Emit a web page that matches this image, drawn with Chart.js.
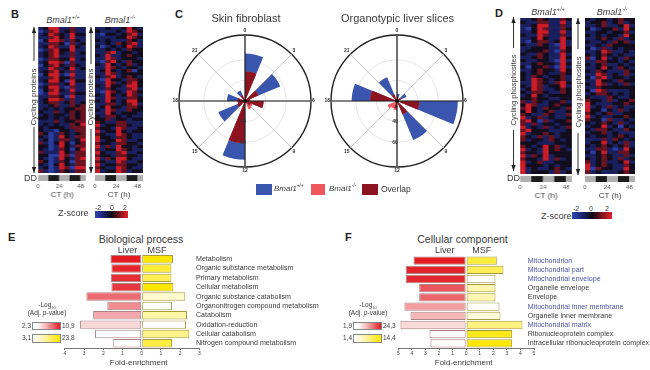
<!DOCTYPE html>
<html>
<head>
<meta charset="utf-8">
<title>Bmal1 panels</title>
<script src="https://cdn.jsdelivr.net/npm/chart.js@4"></script>
<style>
	html, body { margin: 0; padding: 0; background: #fff; overflow: hidden; }
	body { width: 650px; height: 370px; position: relative; font-family: "Liberation Sans", Arial, sans-serif; color: #3a3a3a; }
	canvas { position: absolute; }
	canvas.soft { filter: blur(0.55px); }
	.t { position: absolute; white-space: nowrap; line-height: 1; }
	.c { transform: translateX(-50%); }
	.letter { font-weight: bold; font-size: 11px; color: #222; }
	.rot { transform: translate(-50%, -50%) rotate(-90deg); font-size: 8px; }
	i sup, sup { font-size: 60%; line-height: 0; }
	.box { position: absolute; }
	svg { position: absolute; left: 0; top: 0; }
</style>
</head>
<body>
<svg width="650" height="370" id="arrows"></svg>
<script>
// z-score rows, one digit per time point (0 = -2 ... 4 = +2), top row first
var proteinsWT = ["124411311","013412311","124321422","113421411","024431321","113320312","124311421","013422411","123421312",
	"123411311","013322412","124430311","023421321","114312412","123421311","024410411","113422311","124420422","013312411","124410311","023421411","014411322","113320411","124431311",
	"123312312","112311323","121212233","211312323","121221323","221212323","111312233","121211324","212221333",
	"211022133","320132123","210142133","120133124","310242023","220142133","210132024","311142133","220043033","210142134","320132033","210242133","120143044","310132133"];
var proteinsKO = ["112112421","211121432","102212341","111122432","212111321","112132341","201212431","112121322",
	"113412212","214112322","114312221","103421322","214212312","114321221","124212302","114312222","213412321",
	"104221332","114312342","214221442","113211341","104321432","214212431","114311332","214212442","113312341","124221332","214311322","114212221","213321211",
	"223122122","321133111","412233211","322143112","412242122","321143211","422133211","412243112","322133221","413142212","312243211","421134112","322133221","413244211","321143112","412233221","321143211","412243122"];
var phosphoWT = ["112321132","211331141","112441131","102431132","112441141","211431131","112421142","102331241","211321041","112221142","122231032","211321141","112321142","211221041","112322142","202231041","112322142",
	"212321132","213212231","214321231","114321342","214312241","124311232","213321132","124212222",
	"223221122","313212231","243112322","342132213","242123112","321132113","412312112","342031223","313122122","412131213","342221112","412232122","321313122","312213212","222111222","321242312","412142321","322142222","413241222","322141312","412311222","422212122","412112321","412221312"];
var phosphoKO = ["212212322","122312312","112311241","201223142","112212231","212122142","112321312","211213231","112132222","201312122","112431121","212321211","302412132","113322121","212311212","112421321","213211132","114312131","203412212","114221322","214312131","113222222","204311112","123321212",
	"211132112","322131223","421112232","412131211","422021312","321231122","412112232","322031121","212321312","122412021","213321132","122312111","212212321","111313212","122412131","212321231","113310142","202411332","112321131","212321312","312311241","412321132","403221142","312111232"];
var ctLabels = ["0","","","","24","","","","48"];
var ddPhases = ["L","L","D","D","L","L","D","D","L"];

// rose charts, 16 bins clockwise starting from CT 12
var roseLabels = ["12","","15","","18","","21","","0","","3","","6","","9",""];
var skinWT = [77,20,48,27,37.5,20,31,22,66,20,57,25,38,26,22,20];
var skinKO = [61,20,28,27,27,20,26,22,48.6,20,34,25,38,28,29,20];
var skinOverlap = [61,20,28,27,27,20,26,22,48.6,20,34,25,38,26,22,20];
var liverWT = [27,20,20,20,64,20,45,20,27,22,30,22,79,20,61,20];
var liverKO = [29,28,30,20,46,20,27,22,24,22,24,22,41.6,20,34,22];
var liverOverlap = [27,20,20,20,46,20,27,20,24,22,24,22,41.6,20,34,20];
var roseTicks = [40,60];

// enrichment panels
var bioTerms = ["Metabolism","Organic substance metabolism","Primary metabolism","Cellular metabolism","Organic substance catabolism","Organonitrogen compound metabolism","Catabolism","Oxidation-reduction","Cellular catabolism","Nitrogen compound metabolism"];
var bioLiver = [1.63,1.58,1.61,1.58,2.88,1.79,2.53,3.21,2.43,1.48];
var bioMSF = [1.63,1.55,1.55,1.65,2.27,1.58,2.36,2.31,2.48,1.58];
var bioLiverP = [10.9,10.6,10.2,9.8,7.9,6.6,5.6,3.8,2.3,2.3];
var bioMSFP = [23.8,20,17,23.8,7.3,3.1,10.3,3.1,12.4,18.6];
var ccTerms = ["Mitochondrion","Mitochondrial part","Mitochondrial envelope","Organelle envelope","Envelope","Mitochondrial inner membrane","Organelle inner membrane","Mitochondrial matrix","Ribonucleoprotein complex","Intracellular ribonucleoprotein complex"];
var ccLiver = [3.88,4.45,4.45,3.46,3.46,4.55,4.1,4.84,2.7,2.63];
var ccMSF = [2.26,2.75,2.16,2.16,2.16,2.46,2.53,4.15,3.39,3.39];
var ccLiverP = [24.3,23.6,23,18.5,17,11.5,9,5.5,2.4,2.3];
var ccMSFP = [11.5,10,1.4,5.5,5.5,1.4,3.2,8,13,14.4];

var zColors = ["#2b3da0","#1a1f5e","#120d1c","#691320","#cc1c28"];
var blue = "#3a55ad", pink = "#f0565c", dark = "#8b1420";
Chart.defaults.font.family = '"Liberation Sans", Arial, sans-serif';
Chart.defaults.animation = false;

function addCanvas(left, top, w, h) {
	var c = document.createElement("canvas");
	c.width = w; c.height = h;
	c.style.left = left + "px"; c.style.top = top + "px";
	c.style.width = w + "px"; c.style.height = h + "px";
	document.body.appendChild(c);
	return c;
}
function addText(html, left, top, size, extra) {
	var d = document.createElement("div");
	d.className = "t " + (extra || "");
	d.innerHTML = html;
	d.style.left = left + "px"; d.style.top = top + "px";
	if (size) d.style.fontSize = size + "px";
	document.body.appendChild(d);
	return d;
}
function addBox(left, top, w, h, bg, border) {
	var d = document.createElement("div");
	d.className = "box";
	d.style.cssText += "left:" + left + "px;top:" + top + "px;width:" + w + "px;height:" + h + "px;background:" + bg + ";" + (border ? "border:1px solid " + border + ";box-sizing:border-box;" : "");
	document.body.appendChild(d);
}

function heatmap(rows, left, top, w, h) {
	var perRow = h / rows.length;
	var datasets = [];
	for (var i = rows.length - 1; i >= 0; i--) {
		datasets.push({
			data: ctLabels.map(function () { return 1; }),
			backgroundColor: rows[i].split("").map(function (d) { return zColors[+d]; })
		});
	}
	// gap and light/dark strip under the rows
	datasets.push({ data: ctLabels.map(function () { return -2.7 / perRow; }), backgroundColor: "rgba(0,0,0,0)" });
	datasets.push({ data: ctLabels.map(function () { return -5.6 / perRow; }), backgroundColor: ddPhases.map(function (p) { return p == "L" ? "#b0b0b0" : "#1c1c1c"; }) });
	var colW = w / ctLabels.length;
	var cv = addCanvas(left - 10, top, w + 20, h + 8.3 + 19);
	new Chart(cv, {
		type: "bar",
		data: { labels: ctLabels, datasets: datasets },
		options: {
			responsive: false,
			layout: { padding: { left: 10, right: 10, top: 0, bottom: 0 } },
			plugins: { legend: { display: false }, tooltip: { enabled: false } },
			datasets: { bar: { barPercentage: 1, categoryPercentage: 1, borderWidth: 0 } },
			scales: {
				y: { display: false, stacked: true, min: -8.3 / perRow, max: rows.length },
				x: {
					stacked: true,
					afterFit: function (s) { s.height = 19; },
					grid: { display: false, drawTicks: false },
					border: { display: false },
					ticks: { autoSkip: false, maxRotation: 0, font: { size: 6 }, color: "#555", padding: 2, labelOffset: -colW / 2 },
					title: { display: true, text: "CT (h)", font: { size: 8 }, color: "#444", padding: { top: 1, bottom: 0 } }
				}
			}
		}
	});
}

var roseExtras = {
	id: "roseExtras",
	afterDatasetsDraw: function (chart) {
		var s = chart.scales.r, c = chart.ctx;
		c.save();
		c.strokeStyle = "#222"; c.lineWidth = 1.2;
		[0, 4, 8, 12].forEach(function (i) {
			var p = s.getPointPosition(i, s.drawingArea);
			c.beginPath(); c.moveTo(s.xCenter, s.yCenter); c.lineTo(p.x, p.y); c.stroke();
		});
		c.fillStyle = "#111";
		c.beginPath(); c.arc(s.xCenter, s.yCenter, 2, 0, Math.PI * 2); c.fill();
		c.fillStyle = "#333"; c.font = "bold 5px 'Liberation Sans'"; c.textAlign = "center"; c.textBaseline = "middle";
		roseTicks.forEach(function (v) {
			var p = s.getPointPosition(0, s.getDistanceFromCenterForValue(v));
			c.fillText(String(v), p.x - 2, p.y);
		});
		c.restore();
	}
};
function rose(wt, ko, overlap, left, top, w, h) {
	new Chart(addCanvas(left, top, w, h), {
		type: "polarArea",
		data: {
			labels: roseLabels,
			datasets: [
				{ data: overlap, backgroundColor: dark, borderWidth: 0 },
				{ data: ko, backgroundColor: pink, borderWidth: 0 },
				{ data: wt, backgroundColor: blue, borderWidth: 0 }
			]
		},
		plugins: [roseExtras],
		options: {
			responsive: false,
			plugins: { legend: { display: false }, tooltip: { enabled: false } },
			scales: {
				r: {
					min: 20, max: 84, startAngle: 180,
					ticks: { display: false, stepSize: 20 },
					grid: {
						circular: true,
						color: function (ctx) { return ctx.tick.value == 84 ? "#222" : ctx.tick.value == 80 ? "rgba(0,0,0,0)" : "#e6e6e6"; },
						lineWidth: function (ctx) { return ctx.tick.value == 84 ? 1.4 : 1; }
					},
					angleLines: {
						display: true,
						color: function (ctx) { return ctx.index % 2 ? "rgba(0,0,0,0)" : "#c8c8c8"; },
						lineWidth: 1
					},
					pointLabels: { display: true, centerPointLabels: false, font: { size: 5, weight: "bold" }, color: "#333", padding: 1 }
				}
			}
		}
	});
}

function mix(rgb, f) {
	return "rgb(" + rgb.map(function (c) { return Math.round(255 + (c - 255) * f); }).join(",") + ")";
}
function enrich(terms, liver, msf, liverP, msfP, lo1, hi1, lo2, hi2, xMin, xMax, left, top, plotL, plotR, plotT, plotB, width, labelShift) {
	var neg = liver.map(function (v) { return -v; });
	new Chart(addCanvas(left, top, width, plotB - top + 12), {
		type: "bar",
		data: {
			labels: terms,
			datasets: [
				{ data: neg, backgroundColor: liverP.map(function (p) { return mix([227, 27, 35], (p - lo1) / (hi1 - lo1)); }), borderColor: "#a88486", borderWidth: 1, borderSkipped: false },
				{ data: msf, backgroundColor: msfP.map(function (p) { return mix([255, 230, 0], (p - lo2) / (hi2 - lo2)); }), borderColor: "#a89c48", borderWidth: 1, borderSkipped: false }
			]
		},
		// term names start a little inside the end of the fold axis
		plugins: [{
			id: "shiftTerms",
			beforeDraw: function (chart) {
				var y = chart.scales.y;
				if (!y.$shifted) { y.left -= labelShift; y.$shifted = true; y._labelItems = null; }
			}
		}],
		options: {
			indexAxis: "y",
			responsive: false,
			layout: { padding: { left: plotL - left, top: plotT - top, right: 0, bottom: 0 } },
			plugins: { legend: { display: false }, tooltip: { enabled: false } },
			datasets: { bar: { barPercentage: 0.9, categoryPercentage: 1 } },
			scales: {
				x: {
					stacked: true, min: xMin, max: xMax,
					afterFit: function (s) { s.height = 12; },
					grid: { drawOnChartArea: false, drawTicks: true, tickLength: 2, color: "#777" },
					border: { color: "#777" },
					ticks: { stepSize: 1, autoSkip: false, maxRotation: 0, font: { size: 5 }, color: "#444", padding: 1, callback: function (v) { return Math.abs(v); } }
				},
				y: {
					stacked: true, position: "right",
					afterFit: function (s) { s.width = left + width - plotR; },
					grid: { display: false, drawTicks: false },
					border: { display: false },
					ticks: {
						autoSkip: false, crossAlign: "near", padding: 0, font: { size: 7.1 },
						color: function (ctx) { return ctx.tick.label.indexOf("Mitochondri") == 0 ? "#4a55a8" : "#3a3a3a"; }
					}
				}
			}
		}
	});
}

heatmap(proteinsWT, 38.3, 27, 47.7, 146);
heatmap(proteinsKO, 95.3, 27, 48, 146);
heatmap(phosphoWT, 520, 18.3, 51.7, 155.7);
heatmap(phosphoKO, 584.7, 18.3, 50.5, 155.7);
Array.prototype.slice.call(document.querySelectorAll("canvas")).forEach(function (c) { c.className = "soft"; });

rose(skinWT, skinKO, skinOverlap, 165, 28, 160, 146);
rose(liverWT, liverKO, liverOverlap, 317, 28, 160, 146);

enrich(bioTerms, bioLiver, bioMSF, bioLiverP, bioMSFP, 2.3, 10.9, 3.1, 23.8, -4, 3, 50, 250, 64.9, 199.3, 254.5, 348, 280, 3.3);
enrich(ccTerms, ccLiver, ccMSF, ccLiverP, ccMSFP, 1.9, 24.3, 1.4, 14.4, -5, 5, 385, 250, 398.3, 534, 256, 348, 265, 6.3);

// panel letters
addText("B", 11, 9, 0, "letter");
addText("C", 175, 9, 0, "letter");
addText("D", 495, 8, 0, "letter");
addText("E", 8, 232, 0, "letter");
addText("F", 345, 232, 0, "letter");

// heat map headings
addText("<i>Bmal1<sup>+/+</sup></i>", 63, 15.5, 9, "c");
addText("<i>Bmal1<sup>-/-</sup></i>", 120, 15.5, 9, "c");
addText("<i>Bmal1<sup>+/+</sup></i>", 548, 7.5, 9, "c");
addText("<i>Bmal1<sup>-/-</sup></i>", 612, 7.5, 9, "c");
addText("DD", 24, 174, 9);
addText("DD", 507, 174, 9);
addText("Cycling proteins", 33.5, 96.5, 8, "rot");
addText("Cycling proteins", 91, 97, 8, "rot");
addText("Cycling phosphosites", 514, 90, 7.5, "rot");
addText("Cycling phosphosites", 579, 91.5, 7.5, "rot");

var arrowLines = [[34,27,34,61],[34,173,34,127],[91,27,91,64],[91,173,91,129],[513.5,17,513.5,48],[513.5,171,513.5,130],[578,18,578,49],[578,175,578,133]];
document.getElementById("arrows").innerHTML = arrowLines.map(function (a) {
	var dir = a[3] > a[1] ? 1 : -1;
	var tip = a[1], x = a[0];
	return '<line x1="' + x + '" y1="' + a[1] + '" x2="' + x + '" y2="' + a[3] + '" stroke="#333" stroke-width="1"/>' +
		'<polygon points="' + x + ',' + tip + ' ' + (x - 2.2) + ',' + (tip + dir * 6) + ' ' + (x + 2.2) + ',' + (tip + dir * 6) + '" fill="#222"/>';
}).join("");

// z-score keys
var zGrad = "linear-gradient(to right,#2f47b4 0%,#1a2470 25%,#0c0a14 50%,#7d1521 75%,#e8202a 100%)";
addText("Z-score", 58, 208.5, 9);
addBox(95, 211, 33, 7, zGrad);
addText("-2", 98, 203.5, 7, "c");
addText("0", 112, 203.5, 7, "c");
addText("2", 125, 203.5, 7, "c");
addText("Z-score", 541, 211.5, 9);
addBox(572, 212, 40, 6.5, zGrad);
addText("-2", 576, 204.5, 7, "c");
addText("0", 591, 204.5, 7, "c");
addText("2", 607, 204.5, 7, "c");

// rose headings and key
addText("Skin fibroblast", 246, 12.5, 11, "c");
addText("Organotypic liver slices", 397.5, 12.5, 11, "c");
addBox(256, 184, 16, 11, blue);
addText("<i>Bmal1<sup>+/+</sup></i>", 274, 185, 8);
addBox(311, 184, 14, 11, pink);
addText("<i>Bmal1<sup>-/-</sup></i>", 329, 185, 8);
addBox(362, 184, 16, 11, dark);
addText("Overlap", 381, 184.5, 8.5);

// enrichment headings
addText("Biological process", 141, 234, 10.5, "c");
addText("Liver", 127.5, 245.5, 9, "c");
addText("MSF", 157, 245.5, 9, "c");
addText("Fold-enrichment", 138.7, 359, 8, "c");
addText("Cellular component", 462.5, 234, 10.5, "c");
addText("Liver", 444.7, 245.5, 9, "c");
addText("MSF", 481.7, 245.5, 9, "c");
addText("Fold-enrichment", 463.7, 359, 8, "c");

// p-value keys
var redGrad = "linear-gradient(to right,#fff 0%,#fff 15%,#f6b0b3 50%,#e31b23 100%)";
var yelGrad = "linear-gradient(to right,#fff 0%,#fdf5b0 40%,#ffe600 100%)";
addText("-Log<sub style='font-size:60%;line-height:0'>10</sub>", 47, 302, 6.5, "c");
addText("(Adj. <i>p</i>-value)", 47, 309.5, 6.5, "c");
addBox(32, 321.7, 29, 8.5, redGrad, "#888");
addBox(32, 334, 29, 8.5, yelGrad, "#888");
addText("2,3", 22, 322.5, 6.5);
addText("10,9", 62, 322.5, 6.5);
addText("3,1", 22, 335, 6.5);
addText("23,8", 62, 335, 6.5);
addText("-Log<sub style='font-size:60%;line-height:0'>10</sub>", 368, 302, 6.5, "c");
addText("(Adj. <i>p</i>-value)", 368, 309.5, 6.5, "c");
addBox(353.3, 321.7, 29, 8.5, redGrad, "#888");
addBox(353.3, 334, 29, 8.5, yelGrad, "#888");
addText("1,9", 343, 322.5, 6.5);
addText("24,3", 383, 322.5, 6.5);
addText("1,4", 343, 335, 6.5);
addText("14,4", 383, 335, 6.5);
</script>
</body>
</html>
